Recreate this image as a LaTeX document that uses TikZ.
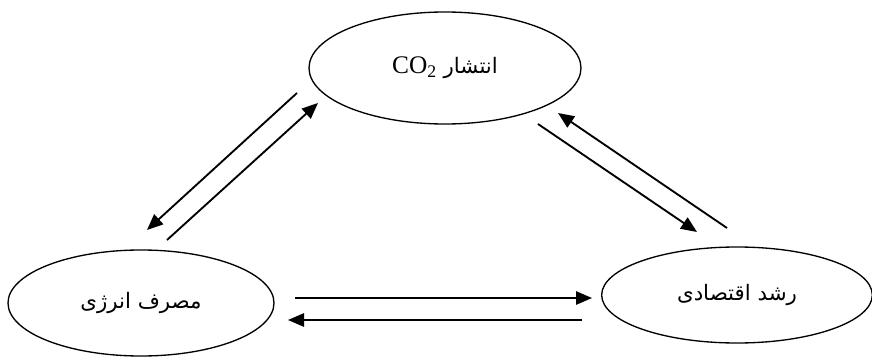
\documentclass[tikz,border=0pt]{standalone}
\usepackage{fontspec}
\setmainfont{Liberation Serif}
\newfontfamily\arabicfont[Script=Arabic]{DejaVu Sans}
\TeXXeTstate=1
\usetikzlibrary{arrows.meta,shapes}

\begin{document}
\begin{tikzpicture}[x=0.75pt,y=-0.75pt,->,>={Triangle[length=12pt,width=10pt]},line width=1.4pt,
    bubble/.style={shape=ellipse,draw=black,line width=1pt,inner sep=0pt,font=\arabicfont\fontsize{16}{19}\selectfont}]
                \useasboundingbox (0,0) rectangle (872,357);
                \node[bubble,minimum width=204pt,minimum height=84pt](co2)at(445, 68){\beginR انتشار \beginL{\rmfamily\fontsize{19}{22}\selectfont CO\textsubscript{2}}\endL\endR};
                \node[bubble,minimum width=199.5pt,minimum height=79.5pt](energy)at(141, 303){\beginR مصرف انرژی\endR};
                \node[bubble,minimum width=203pt,minimum height=72pt](growth)at(737, 295){\beginR رشد اقتصادی\endR};
                % co2 <-> energy
                \path ([shift={(-148,25)}]co2.center) edge ([shift={(6,-73)}]energy.center)
                ([shift={(26,-63)}]energy.center) edge ([shift={(-127,35)}]co2.center)
                % co2 <-> growth
                ([shift={(93,56)}]co2.center) edge ([shift={(-40,-63)}]growth.center)
                ([shift={(-10,-67)}]growth.center) edge ([shift={(113,45)}]co2.center)
                % energy <-> growth
                ([shift={(154,-5)}]energy.center) edge ([shift={(-145,3)}]growth.center)
                ([shift={(-155,25)}]growth.center) edge ([shift={(147,17)}]energy.center);
            \end{tikzpicture}
\end{document}
